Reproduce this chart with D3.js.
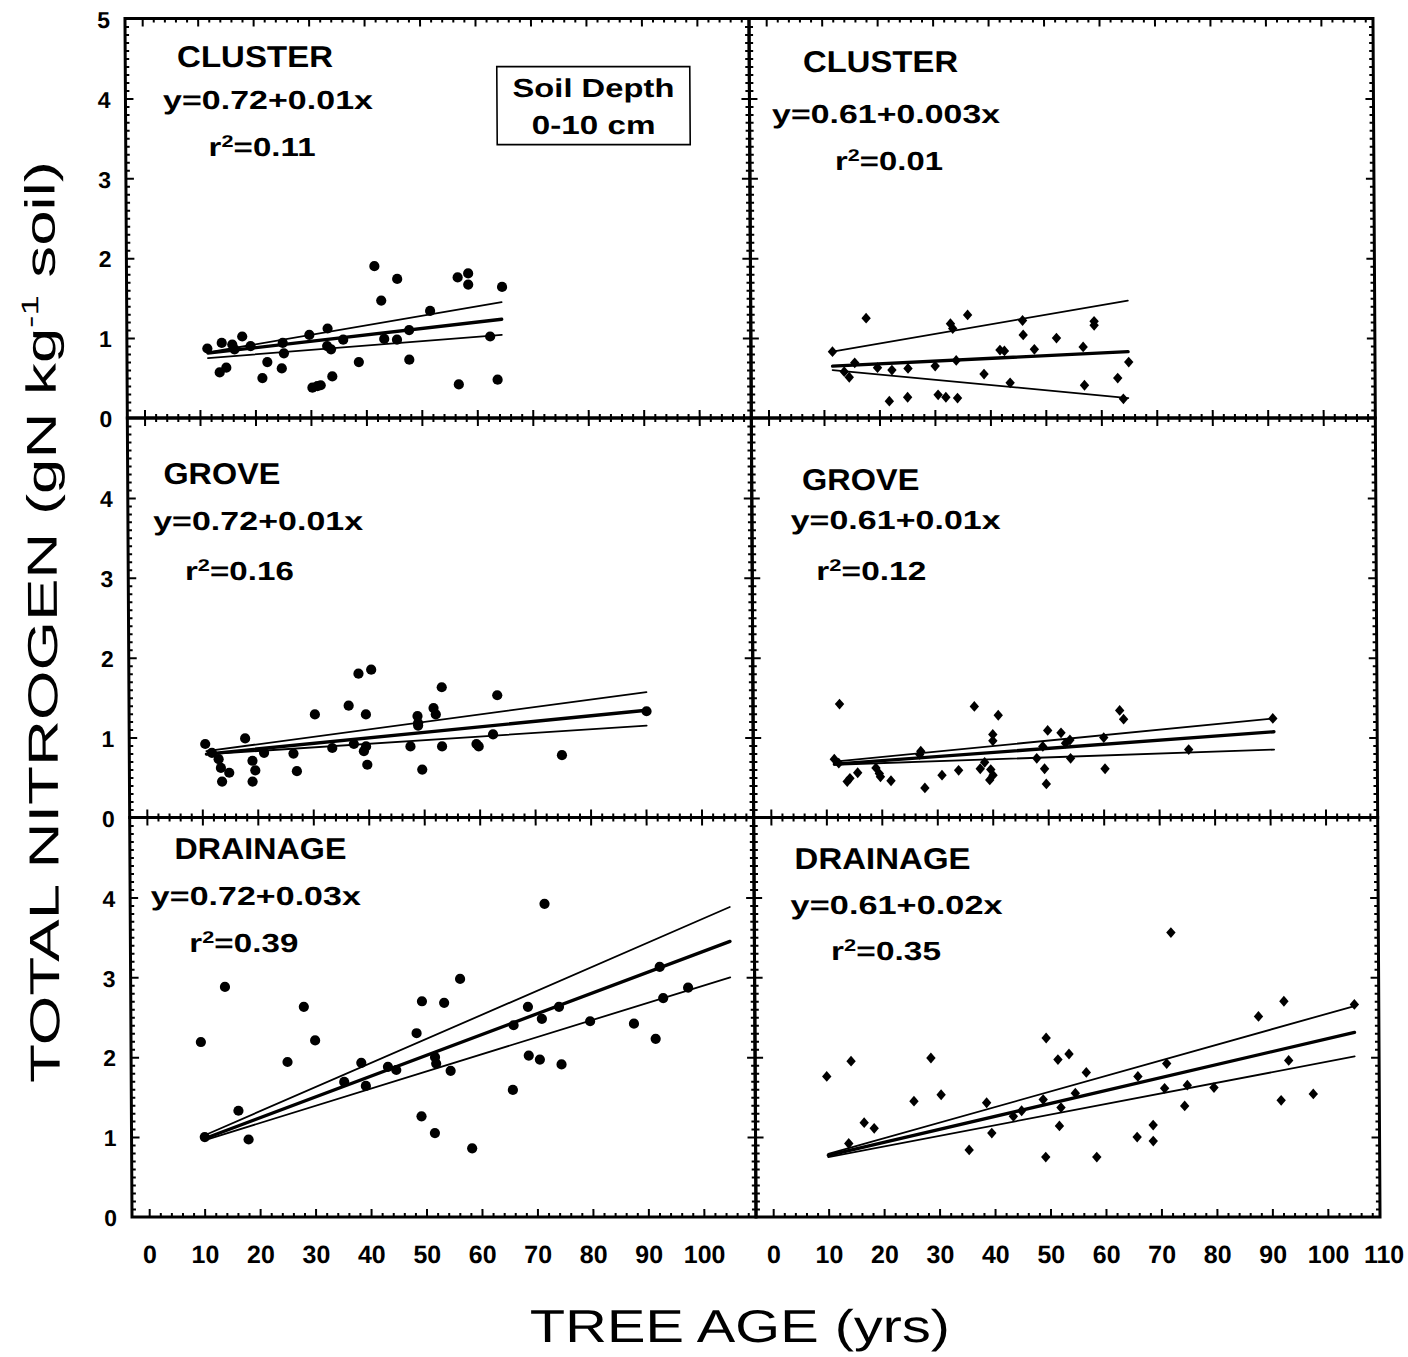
<!DOCTYPE html>
<html>
<head>
<meta charset="utf-8">
<script src="https://cdn.jsdelivr.net/npm/d3@7"></script>
<style>
  html, body { margin: 0; padding: 0; background: #fff; }
  svg { display: block; }
</style>
</head>
<body>
<script>
// ---- data ---------------------------------------------------------------
// landscape position of each panel (rows) and columns (two stand types)
const sites = ["CLUSTER", "CLUSTER", "GROVE", "GROVE", "DRAINAGE", "DRAINAGE"];

// [tree age (yrs), total N (gN kg-1 soil)]
const clusterLeft = [[11.4,0.87],[14.0,0.94],[15.9,0.92],[16.3,0.86],[17.7,1.02],[19.2,0.90],[13.6,0.57],[14.8,0.63],
  [21.3,0.50],[22.2,0.70],[24.8,0.62],[25.0,0.94],[25.2,0.81],[29.8,1.04],[30.3,0.38],[31.2,0.40],[31.8,0.41],
  [33.1,1.12],[33.0,0.90],[33.7,0.86],[33.9,0.52],[35.9,0.98],[38.7,0.70],[41.6,1.90],[42.8,1.47],[43.3,0.99],
  [45.6,0.98],[45.7,1.74],[47.8,1.10],[47.8,0.73],[51.6,1.34],[56.6,1.76],[58.5,1.81],[58.5,1.67],[56.7,0.42],
  [62.4,1.02],[63.7,0.48],[64.6,1.64]];
const clusterRight = [[11.6,0.83],[17.7,1.25],[13.7,0.58],[14.6,0.51],[15.6,0.69],[19.7,0.63],[21.8,0.21],[22.3,0.60],
  [25.1,0.26],[25.2,0.62],[30.1,0.65],[30.6,0.29],[32.0,0.26],[34.1,0.25],[32.9,1.18],[33.3,1.12],[33.9,0.72],
  [36.0,1.29],[38.9,0.55],[41.8,0.85],[42.6,0.84],[43.6,0.44],[45.9,1.22],[46.0,1.04],[48.0,0.86],[52.0,1.00],
  [56.8,0.89],[57.0,0.41],[58.8,1.21],[58.8,1.16],[63.0,0.50],[65.0,0.70],[64.0,0.24]];
const groveLeft = [[10.6,0.92],[11.8,0.81],[13.0,0.73],[13.4,0.62],[13.6,0.45],[14.9,0.56],[17.8,0.99],[19.1,0.71],
  [19.6,0.59],[19.1,0.45],[21.2,0.81],[26.5,0.80],[27.1,0.58],[30.4,1.29],[33.5,0.87],[36.5,1.40],[37.4,0.92],
  [38.3,1.80],[40.6,1.85],[39.6,1.29],[39.2,0.83],[39.6,0.89],[39.8,0.66],[47.6,0.89],[48.9,1.27],[49.0,1.18],
  [49.0,1.15],[49.7,0.60],[51.8,1.37],[52.2,1.29],[53.3,1.63],[53.3,0.89],[59.5,0.92],[59.9,0.89],[62.5,1.04],
  [63.3,1.53],[74.9,0.78],[90.2,1.33]];
const groveRight = [[12.5,1.42],[11.5,0.73],[12.3,0.68],[13.8,0.45],[14.3,0.49],[15.7,0.56],[19.0,0.62],[19.6,0.55],
  [19.8,0.51],[21.7,0.46],[27.1,0.83],[26.9,0.79],[27.8,0.37],[30.9,0.53],[33.9,0.59],[36.8,1.39],[37.8,0.61],
  [38.6,0.69],[40.1,1.04],[40.1,0.96],[39.7,0.60],[39.5,0.47],[40.1,0.53],[41.1,1.28],[48.0,0.74],[49.4,0.61],
  [49.7,0.42],[50.0,1.09],[49.1,0.89],[52.4,1.06],[53.2,0.93],[54.0,0.97],[54.1,0.74],[60.1,1.00],[60.3,0.61],
  [63.0,1.34],[63.7,1.23],[75.4,0.85],[90.6,1.24]];
const drainageLeft = [[9.5,2.19],[13.9,2.88],[16.2,1.33],[18.0,0.97],[25.1,1.94],[28.1,2.63],[30.1,2.21],[35.3,1.69],
  [38.4,1.93],[39.2,1.64],[43.2,1.88],[44.7,1.84],[48.4,2.30],[49.4,2.70],[49.2,1.26],[51.6,1.05],[51.7,2.00],
  [51.9,1.92],[53.4,2.68],[54.5,1.83],[56.3,2.98],[58.3,0.86],[65.7,1.59],[65.9,2.40],[68.5,2.63],[68.6,2.02],
  [70.6,1.97],[71.0,2.48],[71.6,3.92],[74.1,2.63],[74.5,1.91],[79.7,2.45],[87.6,2.42],[91.5,2.23],[92.3,3.13],
  [92.9,2.74],[97.4,2.87],[10.1,1.00]];
const drainageRight = [[9.8,1.76],[14.2,1.95],[16.5,1.18],[18.3,1.11],[13.7,0.92],[25.5,1.45],[28.6,1.99],[30.4,1.53],
  [35.4,0.84],[38.6,1.43],[39.5,1.05],[43.4,1.26],[44.9,1.33],[48.8,1.47],[49.4,2.24],[49.2,0.75],[51.5,1.97],
  [52.0,1.37],[51.7,1.14],[53.5,2.04],[54.6,1.55],[56.6,1.81],[58.4,0.75],[65.7,1.00],[65.9,1.76],[68.6,1.15],
  [68.6,0.95],[70.7,1.61],[71.1,1.92],[72.0,3.56],[74.3,1.39],[74.8,1.65],[79.6,1.62],[87.7,2.51],[92.3,2.70],
  [93.1,1.96],[91.7,1.46],[97.5,1.54],[105.0,2.66]];

// fitted regression per panel (same order as sites)
const intercepts  = [0.72, 0.61, 0.72, 0.61, 0.72, 0.61];
const slopes      = [0.008, 0.0034, 0.0069, 0.0051, 0.026, 0.0162];
const slopeDigits = [2, 3, 2, 2, 2, 2];
const rSquared    = [0.11, 0.01, 0.16, 0.12, 0.39, 0.35];
const fitAgeRange = [[11.5,64.5],[11.6,64.9],[10.8,90.2],[11.5,90.8],[10,105],[10,105]];
// outer lines: N at the start and end of the fitted age range
const upperBand = [[0.82,1.45],[0.83,1.47],[0.83,1.57],[0.70,1.24],[1.02,3.88],[0.79,2.64]];
const lowerBand = [[0.75,1.04],[0.60,0.25],[0.79,1.15],[0.66,0.85],[0.96,3.00],[0.75,2.01]];

// tick labels
const yTickLabelsTop = [0, 1, 2, 3, 4, 5];
const yTickLabels    = [0, 1, 2, 3, 4];
const xTickLabelsLeft  = [0, 10, 20, 30, 40, 50, 60, 70, 80, 90, 100];
const xTickLabelsRight = [0, 10, 20, 30, 40, 50, 60, 70, 80, 90, 100, 110];

const panelPoints = [clusterLeft, clusterRight, groveLeft, groveRight, drainageLeft, drainageRight];

// ---- layout -------------------------------------------------------------
const W = 1408, H = 1357;
const frameLeft = 128.5, frameTop = 18.5, panelW = 624, panelH = 399.5;
const FONT = "'Liberation Sans', Arial, Helvetica, sans-serif";

// text placement inside each panel: [centre x, baseline y, width]
const titlePos = [[129.8,48.6,156],[131.3,53.6,155],[94.2,65.6,117],[108.9,72.3,117.5],[130.5,41.1,172],[128.6,51.2,176]];
const eqPos    = [[142.5,90.1,210],[136.5,104.9,228],[130.2,112.3,210],[143.7,110.6,210],[125.7,87.8,210],[142.4,96.2,212]];
const r2Pos    = [[136.3,137.2,107],[139.2,151.9,108],[111.2,162.3,109],[119.1,162.3,110],[113.4,134.4,109],[131.6,142.9,110]];

const svg = d3.select("body").append("svg")
  .attr("width", W).attr("height", H)
  .attr("viewBox", `0 0 ${W} ${H}`);
svg.append("rect").attr("width", W).attr("height", H).attr("fill", "#fff");

// the whole figure leans slightly (sheet fed a little crooked)
const kx = 0.00587, cy0 = 618;
const root = svg.append("g")
  .attr("transform", `matrix(1,0,${kx},1,${-kx * cy0},0)`);

const x = d3.scaleLinear().domain([-3.1, 109.4]).range([0, panelW]);
const y = d3.scaleLinear().domain([0, 5]).range([panelH, 0]);

const majorX = d3.range(0, 101, 10);
const minorX = d3.range(2, 109, 2).filter(v => v % 10 !== 0);
const majorY = d3.range(1, 5);
const minorY = d3.range(1, 50).filter(i => i % 10 !== 0).map(i => i / 10);

function tickAxis(g, axisFn, scale, values, size) {
  g.call(axisFn(scale).tickValues(values).tickSize(-size).tickFormat(""))
   .call(s => s.select(".domain").remove())
   .selectAll("line").attr("stroke", "#000").attr("stroke-width", 2);
}

const diamond = "M0,-5.4L4.7,0L0,5.4L-4.7,0Z";

sites.forEach((site, i) => {
  const col = i % 2, row = Math.floor(i / 2);
  const g = root.append("g")
    .attr("transform", `translate(${frameLeft + col * panelW},${frameTop + row * panelH})`);

  // frame ticks on all four sides, pointing inward
  [[d3.axisBottom, `translate(0,${panelH})`, x, majorX, minorX],
   [d3.axisTop, null, x, majorX, minorX],
   [d3.axisLeft, null, y, majorY, minorY],
   [d3.axisRight, `translate(${panelW},0)`, y, majorY, minorY]].forEach(([fn, tr, sc, maj, min]) => {
    const a = g.append("g"); if (tr) a.attr("transform", tr);
    tickAxis(a.append("g"), fn, sc, maj, 8);
    tickAxis(a.append("g"), fn, sc, min, 4);
  });

  g.append("rect")
    .attr("width", panelW).attr("height", panelH)
    .attr("fill", "none").attr("stroke", "#000").attr("stroke-width", 3);

  // y tick labels on the left column
  if (col === 0) {
    const ya = g.append("g")
      .call(d3.axisLeft(y).tickValues(row === 0 ? yTickLabelsTop : yTickLabels).tickSize(0).tickPadding(15).tickFormat(d3.format("d")));
    ya.select(".domain").remove();
    ya.selectAll("text").attr("font-family", FONT).attr("font-weight", "bold").attr("font-size", 23)
      .attr("dy", "0.38em").attr("fill", "#000");
  }
  // x tick labels on the bottom row
  if (row === 2) {
    const xa = g.append("g").attr("transform", `translate(0,${panelH})`)
      .call(d3.axisBottom(x).tickValues(col === 0 ? xTickLabelsLeft : xTickLabelsRight).tickSize(0).tickPadding(28).tickFormat(d3.format("d")));
    xa.select(".domain").remove();
    xa.selectAll("text").attr("font-family", FONT).attr("font-weight", "bold").attr("font-size", 25).attr("fill", "#000");
  }

  // regression line with the two outer lines
  const [a0, a1] = fitAgeRange[i];
  const line = d3.line().x(d => x(d[0])).y(d => y(d[1]));
  const fit = [[a0, intercepts[i] + slopes[i] * a0], [a1, intercepts[i] + slopes[i] * a1]];
  const up = [[a0, upperBand[i][0]], [a1, upperBand[i][1]]];
  const lo = [[a0, lowerBand[i][0]], [a1, lowerBand[i][1]]];
  [[up, 1.8], [lo, 1.8], [fit, 3.3]].forEach(([d, w]) => {
    g.append("path").attr("d", line(d)).attr("fill", "none")
      .attr("stroke", "#000").attr("stroke-width", w).attr("stroke-linecap", "round");
  });

  // observations: dots on the left, diamonds on the right
  const pts = g.append("g");
  if (col === 0) {
    pts.selectAll("circle").data(panelPoints[i]).join("circle")
      .attr("cx", d => x(d[0])).attr("cy", d => y(d[1])).attr("r", 5.1).attr("fill", "#000");
  } else {
    pts.selectAll("path").data(panelPoints[i]).join("path")
      .attr("d", diamond)
      .attr("transform", d => `translate(${x(d[0])},${y(d[1])})`).attr("fill", "#000");
  }

  // annotations
  const label = (pos, size) => g.append("text")
    .attr("x", pos[0]).attr("y", pos[1]).attr("text-anchor", "middle")
    .attr("font-family", FONT).attr("font-weight", "bold").attr("font-size", size)
    .attr("textLength", pos[2]).attr("lengthAdjust", "spacingAndGlyphs")
    .attr("fill", "#000");
  label(titlePos[i], 30).text(site);
  label(eqPos[i], 26).text(`y=${intercepts[i].toFixed(2)}+${slopes[i].toFixed(slopeDigits[i])}x`);
  label(r2Pos[i], 26).call(t => {
    t.append("tspan").text("r");
    t.append("tspan").attr("font-size", 17).attr("dy", -9).text("2");
    t.append("tspan").attr("dy", 9).text(`=${rSquared[i].toFixed(2)}`);
  });

  if (i === 0) {
    const box = g.append("g").attr("transform", "translate(371.5,48.1)");
    box.append("rect").attr("width", 193).attr("height", 78)
      .attr("fill", "#fff").attr("stroke", "#000").attr("stroke-width", 1.6);
    [["Soil Depth", 30, 162], ["0-10 cm", 67, 124]].forEach(([t, by, w]) => {
      box.append("text").attr("x", 96.5).attr("y", by).attr("text-anchor", "middle")
        .attr("font-family", FONT).attr("font-weight", "bold").attr("font-size", 26)
        .attr("textLength", w).attr("lengthAdjust", "spacingAndGlyphs")
        .attr("fill", "#000").text(t);
    });
  }
});

// axis titles
root.append("text")
  .attr("transform", "translate(57,622) rotate(-90)")
  .attr("text-anchor", "middle")
  .attr("font-family", FONT).attr("font-size", 42)
  .attr("textLength", 922).attr("lengthAdjust", "spacingAndGlyphs")
  .attr("fill", "#000")
  .call(t => {
    t.append("tspan").text("TOTAL NITROGEN (gN kg");
    t.append("tspan").attr("font-size", 24).attr("dy", -17).text("-1");
    t.append("tspan").attr("dy", 17).text(" soil)");
  });

root.append("text")
  .attr("x", 735.8).attr("y", 1342).attr("text-anchor", "middle")
  .attr("font-family", FONT).attr("font-size", 46)
  .attr("textLength", 420).attr("lengthAdjust", "spacingAndGlyphs")
  .attr("fill", "#000").text("TREE AGE (yrs)");
</script>
</body>
</html>
